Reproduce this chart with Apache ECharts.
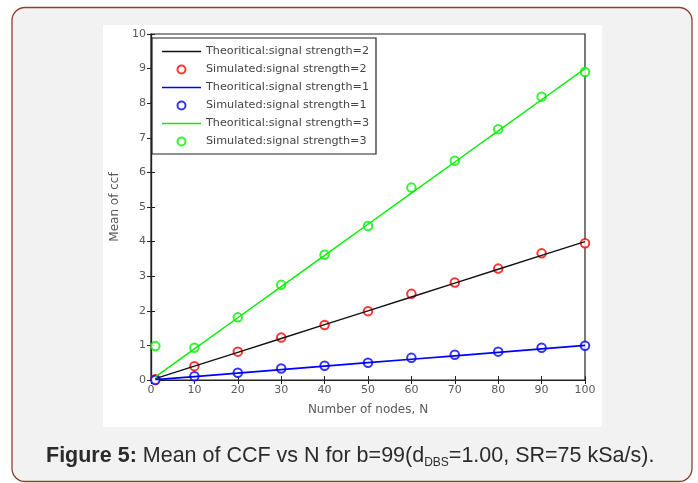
<!DOCTYPE html>
<html>
<head>
<meta charset="utf-8">
<script src="https://cdn.jsdelivr.net/npm/echarts@6/dist/echarts.min.js"></script>
<style>
  html, body { margin: 0; padding: 0; background: #fff; }
  #main { width: 698px; height: 483px; }
</style>
</head>
<body>
<div id="main"></div>
<script>
// number of nodes
var nodes = [1, 10, 20, 30, 40, 50, 60, 70, 80, 90, 100];

// theoretical curves
var theory2 = [0.04, 0.4, 0.8, 1.2, 1.6, 2.0, 2.4, 2.8, 3.2, 3.6, 4.0];
var theory1 = [0.01, 0.1, 0.2, 0.3, 0.4, 0.5, 0.6, 0.7, 0.8, 0.9, 1.0];
var theory3 = [0.09, 0.9, 1.8, 2.7, 3.6, 4.5, 5.4, 6.3, 7.2, 8.1, 9.0];

// simulated points
var sim2 = [0.02, 0.40, 0.82, 1.23, 1.59, 1.99, 2.49, 2.82, 3.22, 3.66, 3.95];
var sim1 = [0.0, 0.11, 0.21, 0.33, 0.41, 0.50, 0.64, 0.73, 0.82, 0.93, 0.99];
var sim3 = [0.98, 0.93, 1.81, 2.75, 3.62, 4.45, 5.56, 6.34, 7.25, 8.19, 8.9];

var xTicks = [0, 10, 20, 30, 40, 50, 60, 70, 80, 90, 100];
var yTicks = [0, 1, 2, 3, 4, 5, 6, 7, 8, 9, 10];

function pairs(xs, ys) {
  return xs.map(function (x, i) { return [x, ys[i]]; });
}

var myChart = echarts.init(document.getElementById('main'));

var labelStyle = { color: '#5a5a5a', fontSize: 11, fontFamily: 'DejaVu Sans' };
var nameStyle = { color: '#5a5a5a', fontSize: 12, fontFamily: 'DejaVu Sans' };
var lineIcon = 'path://M0,0 L40,0 L40,1.6 L0,1.6 Z';
var dotIcon = 'emptyCircle';

var option = {
  animation: false,
  graphic: [
    {
      type: 'rect', z: -10,
      shape: { x: 12, y: 7.5, width: 680, height: 474, r: 13 },
      style: { fill: '#f2f2f2', stroke: '#8a4232', lineWidth: 1.3 }
    },
    {
      type: 'rect', z: -9,
      shape: { x: 103, y: 25, width: 499, height: 402 },
      style: { fill: '#ffffff' }
    }
  ],
  title: {
    left: 41, top: 439,
    text: '{b|Figure 5:} Mean of CCF vs N for b=99(d{s|DBS}=1.00, SR=75 kSa/s).',
    textStyle: {
      fontFamily: 'Liberation Sans', fontSize: 21.5, color: '#2b2b2b', fontWeight: 'normal',
      rich: {
        b: { fontFamily: 'Liberation Sans', fontSize: 21.5, fontWeight: 'bold', color: '#2b2b2b' },
        s: { fontFamily: 'Liberation Sans', fontSize: 12, color: '#2b2b2b', padding: [13, 0, 0, 0] }
      }
    }
  },
  legend: {
    left: 152, top: 38,
    orient: 'vertical',
    itemWidth: 39, itemHeight: 8, itemGap: 7,
    padding: [8, 7, 7, 10],
    borderColor: '#222', borderWidth: 1.2,
    backgroundColor: '#fff',
    textStyle: { color: '#444', fontSize: 11.2, fontFamily: 'DejaVu Sans' },
    data: [
      { name: 'Theoritical:signal strength=2', icon: lineIcon },
      { name: 'Simulated:signal strength=2', icon: dotIcon },
      { name: 'Theoritical:signal strength=1', icon: lineIcon },
      { name: 'Simulated:signal strength=1', icon: dotIcon },
      { name: 'Theoritical:signal strength=3', icon: lineIcon },
      { name: 'Simulated:signal strength=3', icon: dotIcon }
    ]
  },
  grid: {
    left: 151, right: 113, top: 34, bottom: 103,
    show: true, borderColor: '#222', borderWidth: 1.2, backgroundColor: '#fff'
  },
  xAxis: [
    {
      type: 'value', min: 0, max: 100, interval: 10,
      name: 'Number of nodes, N', nameLocation: 'middle', nameGap: 24,
      nameTextStyle: nameStyle,
      axisLine: { lineStyle: { color: '#222', width: 1.2 } },
      axisTick: { inside: true, length: 4, lineStyle: { color: '#222' } },
      axisLabel: Object.assign({ margin: 5 }, labelStyle),
      splitLine: { show: false }
    },
    {
      type: 'value', min: 0, max: 100, interval: 10, position: 'top',
      axisLine: { lineStyle: { color: '#222', width: 1.2 } },
      axisTick: { inside: true, length: 4, lineStyle: { color: '#222' } },
      axisLabel: { show: false },
      splitLine: { show: false }
    }
  ],
  yAxis: [
    {
      type: 'value', min: 0, max: 10, interval: 1,
      name: 'Mean of ccf', nameLocation: 'middle', nameGap: 23,
      nameTextStyle: nameStyle,
      axisLine: { lineStyle: { color: '#222', width: 1.2 } },
      axisTick: { inside: true, length: 4, lineStyle: { color: '#222' } },
      axisLabel: Object.assign({ margin: 5 }, labelStyle),
      splitLine: { show: false }
    },
    {
      type: 'value', min: 0, max: 10, interval: 1, position: 'right',
      axisLine: { lineStyle: { color: '#222', width: 1.2 } },
      axisTick: { inside: true, length: 4, lineStyle: { color: '#222' } },
      axisLabel: { show: false },
      splitLine: { show: false }
    }
  ],
  series: [
    {
      name: 'Theoritical:signal strength=2', type: 'line', symbol: 'none',
      data: pairs(nodes, theory2),
      lineStyle: { color: '#111', width: 1.4 }, itemStyle: { color: '#111' }
    },
    {
      name: 'Simulated:signal strength=2', type: 'scatter', symbol: 'emptyCircle', symbolSize: 8.5,
      data: pairs(nodes, sim2),
      itemStyle: { color: '#ff0000', borderWidth: 1.5 }
    },
    {
      name: 'Theoritical:signal strength=1', type: 'line', symbol: 'none',
      data: pairs(nodes, theory1),
      lineStyle: { color: '#0000ff', width: 1.7 }, itemStyle: { color: '#0000ff' }
    },
    {
      name: 'Simulated:signal strength=1', type: 'scatter', symbol: 'emptyCircle', symbolSize: 8.5,
      data: pairs(nodes, sim1),
      itemStyle: { color: '#0000ff', borderWidth: 1.5 }
    },
    {
      name: 'Theoritical:signal strength=3', type: 'line', symbol: 'none',
      data: pairs(nodes, theory3),
      lineStyle: { color: '#00f000', width: 1.4 }, itemStyle: { color: '#00f000' }
    },
    {
      name: 'Simulated:signal strength=3', type: 'scatter', symbol: 'emptyCircle', symbolSize: 8.5,
      data: pairs(nodes, sim3),
      itemStyle: { color: '#00f000', borderWidth: 1.5 }
    }
  ]
};

myChart.setOption(option);
</script>
</body>
</html>
